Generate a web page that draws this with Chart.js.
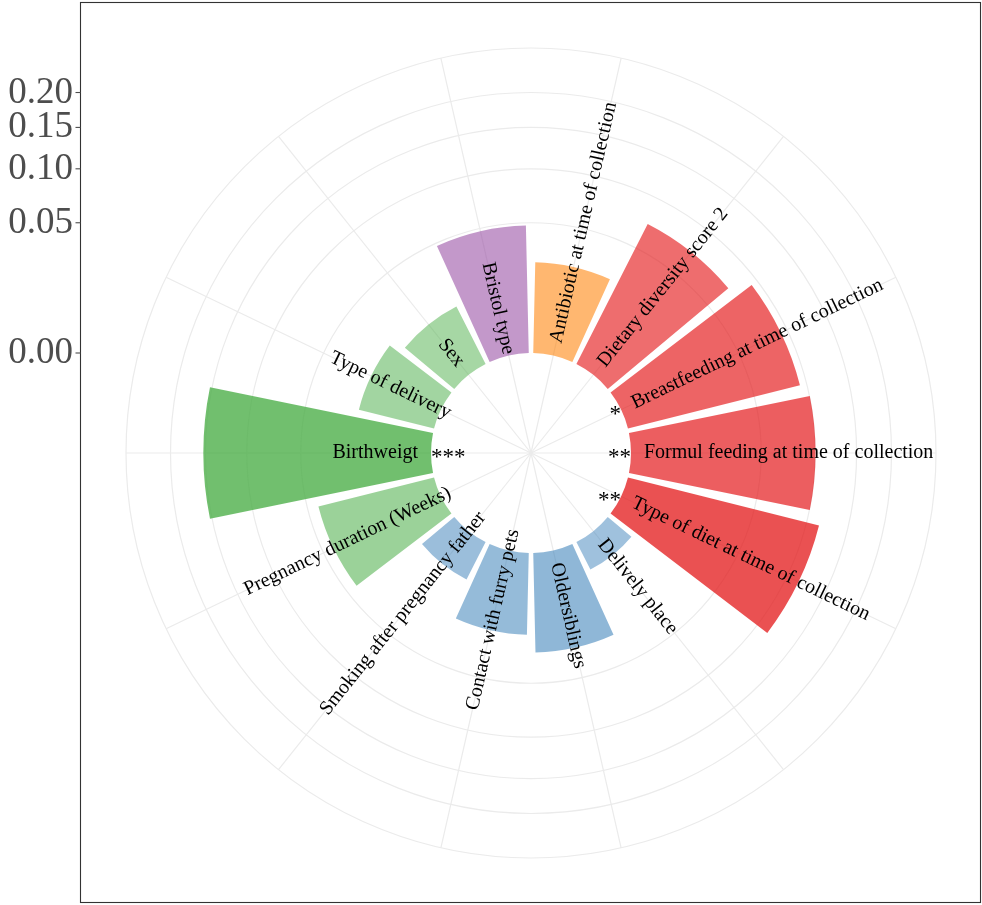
<!DOCTYPE html>
<html>
<head>
<meta charset="utf-8">
<script src="https://cdn.jsdelivr.net/npm/chart.js"></script>
<style>
  html, body { margin: 0; padding: 0; background: #ffffff; }
  canvas { display: block; }
</style>
</head>
<body>
<canvas id="chart" width="982" height="905"></canvas>
<script>
// Categories, clockwise from 12 o'clock
const categories = [
  'Antibiotic at time of collection',
  'Dietary diversity score 2',
  'Breastfeeding at time of collection',
  'Formul feeding at time of collection',
  'Type of diet at time of collection',
  'Delively place',
  'Oldersiblings',
  'Contact with furry pets',
  'Smoking after pregnancy father',
  'Pregnancy duration (Weeks)',
  'Birthweigt',
  'Type of delivery',
  'Sex',
  'Bristol type'
];

// Variable importance per category
const importance = [
  0.0243, 0.0727, 0.0927, 0.1004, 0.1144, 0.0028, 0.0292,
  0.0197, 0.0052, 0.0419, 0.1528, 0.0177, 0.0122, 0.0479
];

// Significance marks per category
const significance = ['', '', '*', '**', '**', '', '', '', '', '', '***', '', '', ''];

// Radial axis breaks and their labels
const radialTicks = [0, 0.05, 0.10, 0.15, 0.20];
const tickLabels = ['0.00', '0.05', '0.10', '0.15', '0.20'];
// Outer limit of the radial axis (outer grid ring)
const radialLimit = 0.2742;

// Bar fills (grouped hues, semi-transparent)
const barColors = [
  'rgba(255,127,0,0.56)',
  'rgba(228,26,28,0.64)',
  'rgba(228,26,28,0.68)',
  'rgba(228,26,28,0.70)',
  'rgba(228,26,28,0.76)',
  'rgba(55,126,184,0.48)',
  'rgba(55,126,184,0.56)',
  'rgba(55,126,184,0.53)',
  'rgba(55,126,184,0.50)',
  'rgba(77,175,74,0.56)',
  'rgba(77,175,74,0.80)',
  'rgba(77,175,74,0.52)',
  'rgba(77,175,74,0.50)',
  'rgba(152,78,163,0.58)'
];

const HOLE_RATIO = 100 / 405;   // empty centre, as a share of the radius
const BAR_WIDTH = 0.9;          // share of each angular slot filled by its bar
const LABEL_GAP = 13;           // distance of the names from the hole edge
const WORD_PULL = 11.5;         // left-half names sit further in, per word break
const SERIF = '"Liberation Serif", "DejaVu Serif", serif';
const GRID = '#EBEBEB';

// Radial scale with a square-root mapping and an empty centre
class SqrtRadialScale extends Chart.RadialLinearScale {
  setDimensions() {
    super.setDimensions();
    this.xCenter = Math.floor(this.left + this.width / 2);
    this.yCenter = Math.floor(this.top + this.height / 2);
    this.drawingArea = Math.min(this.width, this.height) / 2;
  }
  getDistanceFromCenterForValue(value) {
    if (value === null || value === undefined || isNaN(value)) return NaN;
    const hole = this.drawingArea * HOLE_RATIO;
    const span = this.max - this.min;
    const t = span > 0 ? Math.sqrt(Math.max(0, value - this.min) / span) : 0;
    return hole + (this.drawingArea - hole) * t;
  }
  getValueForDistanceFromCenter(distance) {
    const hole = this.drawingArea * HOLE_RATIO;
    const t = Math.max(0, distance - hole) / (this.drawingArea - hole);
    return this.min + t * t * (this.max - this.min);
  }
}
SqrtRadialScale.id = 'radialSqrt';

// Polar bars: centred on each category angle, starting at the hole edge
class RadialBarController extends Chart.PolarAreaController {
  updateElements(arcs, start, count, mode) {
    const scale = this._cachedMeta.rScale;
    const half = (Math.PI / this.chart.data.labels.length) * BAR_WIDTH;
    const base = scale.getDistanceFromCenterForValue(scale.min);
    for (let i = start; i < start + count; i++) {
      const mid = scale.getIndexAngle(i) - Math.PI / 2;
      const parsed = this.getParsed(i);
      this.updateElement(arcs[i], i, {
        x: scale.xCenter,
        y: scale.yCenter,
        innerRadius: base,
        outerRadius: scale.getDistanceFromCenterForValue(parsed.r),
        startAngle: mid - half,
        endAngle: mid + half,
        circumference: 2 * half,
        options: this.resolveDataElementOptions(i, arcs[i].active ? 'active' : mode)
      }, mode);
    }
  }
}
RadialBarController.id = 'radialBar';

Chart.register(SqrtRadialScale, RadialBarController);

// Rotated category names, significance stars, frame and radial axis
const ringLabels = {
  id: 'ringLabels',
  afterDatasetsDraw(chart) {
    const scale = chart.scales.r;
    const ctx = chart.ctx;
    const base = scale.getDistanceFromCenterForValue(scale.min);
    const cx = scale.xCenter, cy = scale.yCenter;
    ctx.save();
    ctx.fillStyle = '#000000';
    categories.forEach((label, i) => {
      const theta = scale.getIndexAngle(i);
      const a = theta - Math.PI / 2;
      const rightSide = theta < Math.PI;
      ctx.save();
      ctx.translate(cx, cy);
      ctx.font = '20px ' + SERIF;
      ctx.textBaseline = 'middle';
      if (rightSide) {
        ctx.rotate(a);
        ctx.textAlign = 'left';
        ctx.fillText(label, base + LABEL_GAP, 0);
      } else {
        const breaks = label.split(' ').length - 1;
        ctx.rotate(a + Math.PI);
        ctx.textAlign = 'right';
        ctx.fillText(label, -(base + LABEL_GAP - WORD_PULL * breaks), 0);
      }
      ctx.restore();
      if (significance[i]) {
        ctx.font = '23px ' + SERIF;
        ctx.textBaseline = 'alphabetic';
        ctx.textAlign = rightSide ? 'right' : 'left';
        ctx.fillText(significance[i], cx + Math.cos(a) * base, cy + Math.sin(a) * base + 11);
      }
    });
    ctx.restore();
  },
  afterDraw(chart) {
    const scale = chart.scales.r;
    const ctx = chart.ctx;
    ctx.save();
    // panel frame
    ctx.strokeStyle = '#333333';
    ctx.lineWidth = 1.1;
    ctx.strokeRect(80.5, 2.5, 900, 900);
    // radial axis on the left
    ctx.font = '37px ' + SERIF;
    ctx.fillStyle = '#4D4D4D';
    ctx.textAlign = 'right';
    ctx.textBaseline = 'alphabetic';
    radialTicks.forEach((v, i) => {
      const y = scale.yCenter - scale.getDistanceFromCenterForValue(v);
      ctx.beginPath();
      ctx.moveTo(75.5, y);
      ctx.lineTo(80.5, y);
      ctx.strokeStyle = '#4D4D4D';
      ctx.lineWidth = 1.1;
      ctx.stroke();
      ctx.fillText(tickLabels[i], 73, y + 10);
    });
    ctx.restore();
  }
};

new Chart(document.getElementById('chart'), {
  type: 'radialBar',
  data: {
    labels: categories,
    datasets: [{
      data: importance,
      backgroundColor: barColors,
      borderWidth: 0
    }]
  },
  options: {
    responsive: false,
    animation: false,
    events: [],
    layout: { padding: { left: 126, top: 48, right: 46, bottom: 47 } },
    plugins: {
      legend: { display: false },
      tooltip: { enabled: false }
    },
    scales: {
      r: {
        type: 'radialSqrt',
        min: 0,
        max: radialLimit,
        startAngle: 180 / categories.length,
        grid: { display: true, circular: true, color: GRID, lineWidth: 1.2 },
        angleLines: { display: true, color: GRID, lineWidth: 1.2 },
        ticks: { display: false },
        pointLabels: { display: false },
        afterBuildTicks: (axis) => {
          axis.ticks = radialTicks.concat([radialLimit]).map(v => ({ value: v }));
        }
      }
    }
  },
  plugins: [ringLabels]
});
</script>
</body>
</html>
